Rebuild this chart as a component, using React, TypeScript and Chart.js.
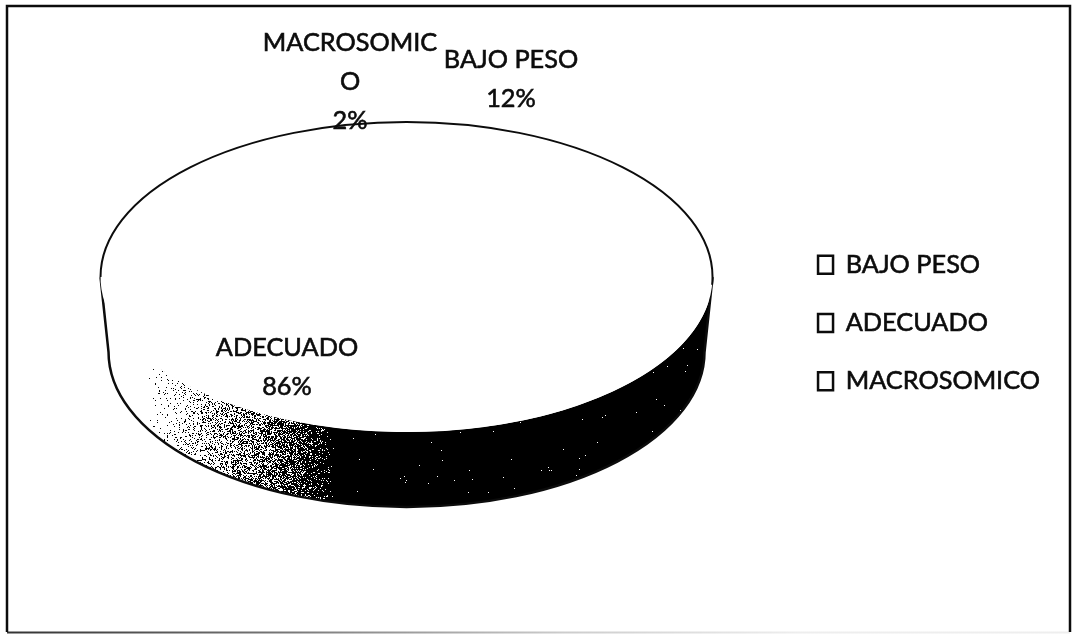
import React, { useEffect, useRef } from "react";
import { Chart, registerables } from "chart.js";

Chart.register(...registerables);

const categories = ["BAJO PESO", "ADECUADO", "MACROSOMICO"];
const percentages = [12, 86, 2];
const sliceLabelLines = [["BAJO PESO", "12%"], ["ADECUADO", "86%"], ["MACROSOMIC", "O", "2%"]];
const sliceLabelCentres = [[511, 60], [287, 348], [350, 43]];

const FONT = "Lato, 'Open Sans', sans-serif";
const FONT_SIZE = 25.3;
const LINE_STEP = 39;
const SQUASH = 155 / 306;
const SURFACE_SHIFT = -46;
const DEPTH = 75;
const WALL_INSET = 8;
const INK = "#0c0c0c";

function surface(chart: any) {
  const arc = chart.getDatasetMeta(0).data[0];
  const rx = arc.outerRadius;
  return { cx: arc.x, cy: arc.y + SURFACE_SHIFT, rawCy: arc.y, rx, ry: rx * SQUASH };
}

// deterministic stipple value, imitating the scanned halftone of the shaded wall
function stipple(x: number, y: number) {
  let h = (Math.imul(x, 374761393) + Math.imul(y, 668265263)) | 0;
  h = Math.imul(h ^ (h >>> 13), 1274126177);
  h = h ^ (h >>> 16);
  return (h >>> 0) / 4294967296;
}

const frame3d = {
  id: "frame3d",
  beforeDraw(chart: any) {
    const { ctx, width } = chart;
    ctx.save();
    ctx.fillStyle = "#fff";
    ctx.fillRect(0, 0, chart.width, chart.height);
    const g = ctx.createLinearGradient(7, 0, 800, 0);
    g.addColorStop(0, "#333");
    g.addColorStop(0.35, "#777");
    g.addColorStop(0.7, "#ccc");
    g.addColorStop(1, "#eee");
    ctx.strokeStyle = g;
    ctx.lineWidth = 2;
    ctx.beginPath();
    ctx.moveTo(7, 632.5);
    ctx.lineTo(width - 3, 632.5);
    ctx.stroke();
    ctx.strokeStyle = INK;
    ctx.lineWidth = 2.5;
    ctx.beginPath();
    ctx.moveTo(7, 632);
    ctx.lineTo(7, 6);
    ctx.lineTo(width - 3, 6);
    ctx.lineTo(width - 3, 632);
    ctx.stroke();
    ctx.restore();
  },
  beforeDatasetsDraw(chart: any) {
    const { ctx } = chart;
    const { cx, cy, rawCy, rx, ry } = surface(chart);
    const wallRx = rx - WALL_INSET;
    ctx.save();
    ctx.beginPath();
    ctx.moveTo(cx + rx, cy);
    ctx.lineTo(cx + wallRx, cy + DEPTH);
    ctx.ellipse(cx, cy + DEPTH, wallRx, ry, 0, 0, Math.PI);
    ctx.lineTo(cx - rx, cy);
    ctx.ellipse(cx, cy, rx, ry, 0, Math.PI, 0, true);
    ctx.closePath();
    ctx.clip();
    const x0 = Math.floor(cx - rx);
    const x1 = Math.ceil(cx + rx);
    const y0 = Math.floor(cy);
    const y1 = Math.ceil(cy + ry + DEPTH);
    ctx.fillStyle = "#000";
    const fadeStart = cx - rx + 45;
    const fadeEnd = cx - rx + 235;
    for (let x = x0; x <= x1; x++) {
      const t = Math.min(1, Math.max(0, (x - fadeStart) / (fadeEnd - fadeStart)));
      const dark = x >= fadeEnd ? 0.998 : Math.pow(t, 1.3);
      for (let y = y0; y <= y1; y++) {
        if (stipple(x, y) < dark) ctx.fillRect(x, y, 1, 1);
      }
    }
    ctx.restore();
    ctx.save();
    ctx.strokeStyle = INK;
    ctx.lineWidth = 2.5;
    ctx.beginPath();
    ctx.moveTo(cx + rx, cy);
    ctx.lineTo(cx + wallRx, cy + DEPTH);
    ctx.ellipse(cx, cy + DEPTH, wallRx, ry, 0, 0, Math.PI);
    ctx.lineTo(cx - rx, cy);
    ctx.stroke();
    ctx.restore();
    // squash the flat pie drawn by Chart.js onto the top of the disc
    ctx.save();
    ctx.translate(cx, cy);
    ctx.scale(1, SQUASH);
    ctx.translate(-cx, -rawCy);
  },
  afterDatasetsDraw(chart: any) {
    const { ctx } = chart;
    ctx.restore();
    const { cx, cy, rx, ry } = surface(chart);
    ctx.save();
    ctx.strokeStyle = INK;
    ctx.lineWidth = 2;
    ctx.beginPath();
    ctx.ellipse(cx, cy, rx, ry, 0, Math.PI, Math.PI * 2 + 0.05);
    ctx.stroke();
    ctx.restore();
  },
  afterDraw(chart: any) {
    const { ctx } = chart;
    ctx.save();
    ctx.font = `${FONT_SIZE}px ${FONT}`;
    ctx.fillStyle = INK;
    ctx.strokeStyle = INK;
    ctx.lineWidth = 0.6;
    ctx.textAlign = "center";
    ctx.textBaseline = "middle";
    sliceLabelLines.forEach((lines, i) => {
      lines.forEach((line, j) => {
        const x = sliceLabelCentres[i][0];
        const y = sliceLabelCentres[i][1] + j * LINE_STEP;
        ctx.fillText(line, x, y);
        ctx.strokeText(line, x, y);
      });
    });
    // the scanned legend text is as heavy as the slice labels
    ctx.textAlign = "left";
    const legend = chart.legend;
    legend.legendItems.forEach((item: any, i: number) => {
      const box = legend.legendHitBoxes[i];
      ctx.strokeText(item.text, box.left + 15 + FONT_SIZE / 2, box.top + box.height / 2);
    });
    ctx.restore();
  },
};

export default function App() {
  const ref = useRef<HTMLCanvasElement>(null);
  useEffect(() => {
    const chart = new Chart(ref.current as HTMLCanvasElement, {
      type: "pie",
      data: {
        labels: categories,
        datasets: [{ data: percentages, backgroundColor: "#fff", borderWidth: 0, hoverOffset: 0 }],
      },
      options: {
        responsive: false,
        animation: false,
        layout: { padding: { left: 28, right: 23, top: 17, bottom: 5 } },
        plugins: {
          tooltip: { enabled: false },
          legend: {
            position: "right",
            labels: {
              color: INK,
              font: { family: FONT, size: FONT_SIZE },
              boxWidth: 15,
              boxHeight: 18,
              padding: 33,
              generateLabels: (c: any) =>
                c.data.labels.map((text: string, index: number) => ({
                  text,
                  index,
                  fillStyle: "#fff",
                  strokeStyle: INK,
                  lineWidth: 2.5,
                  fontColor: INK,
                  hidden: false,
                })),
            },
          },
        },
      },
      plugins: [frame3d],
    } as any);
    return () => chart.destroy();
  }, []);
  return (
    <canvas
      ref={ref}
      width={1073}
      height={634}
      style={{ position: "fixed", left: 0, top: 0, width: 1073, height: 634, display: "block" }}
    />
  );
}
